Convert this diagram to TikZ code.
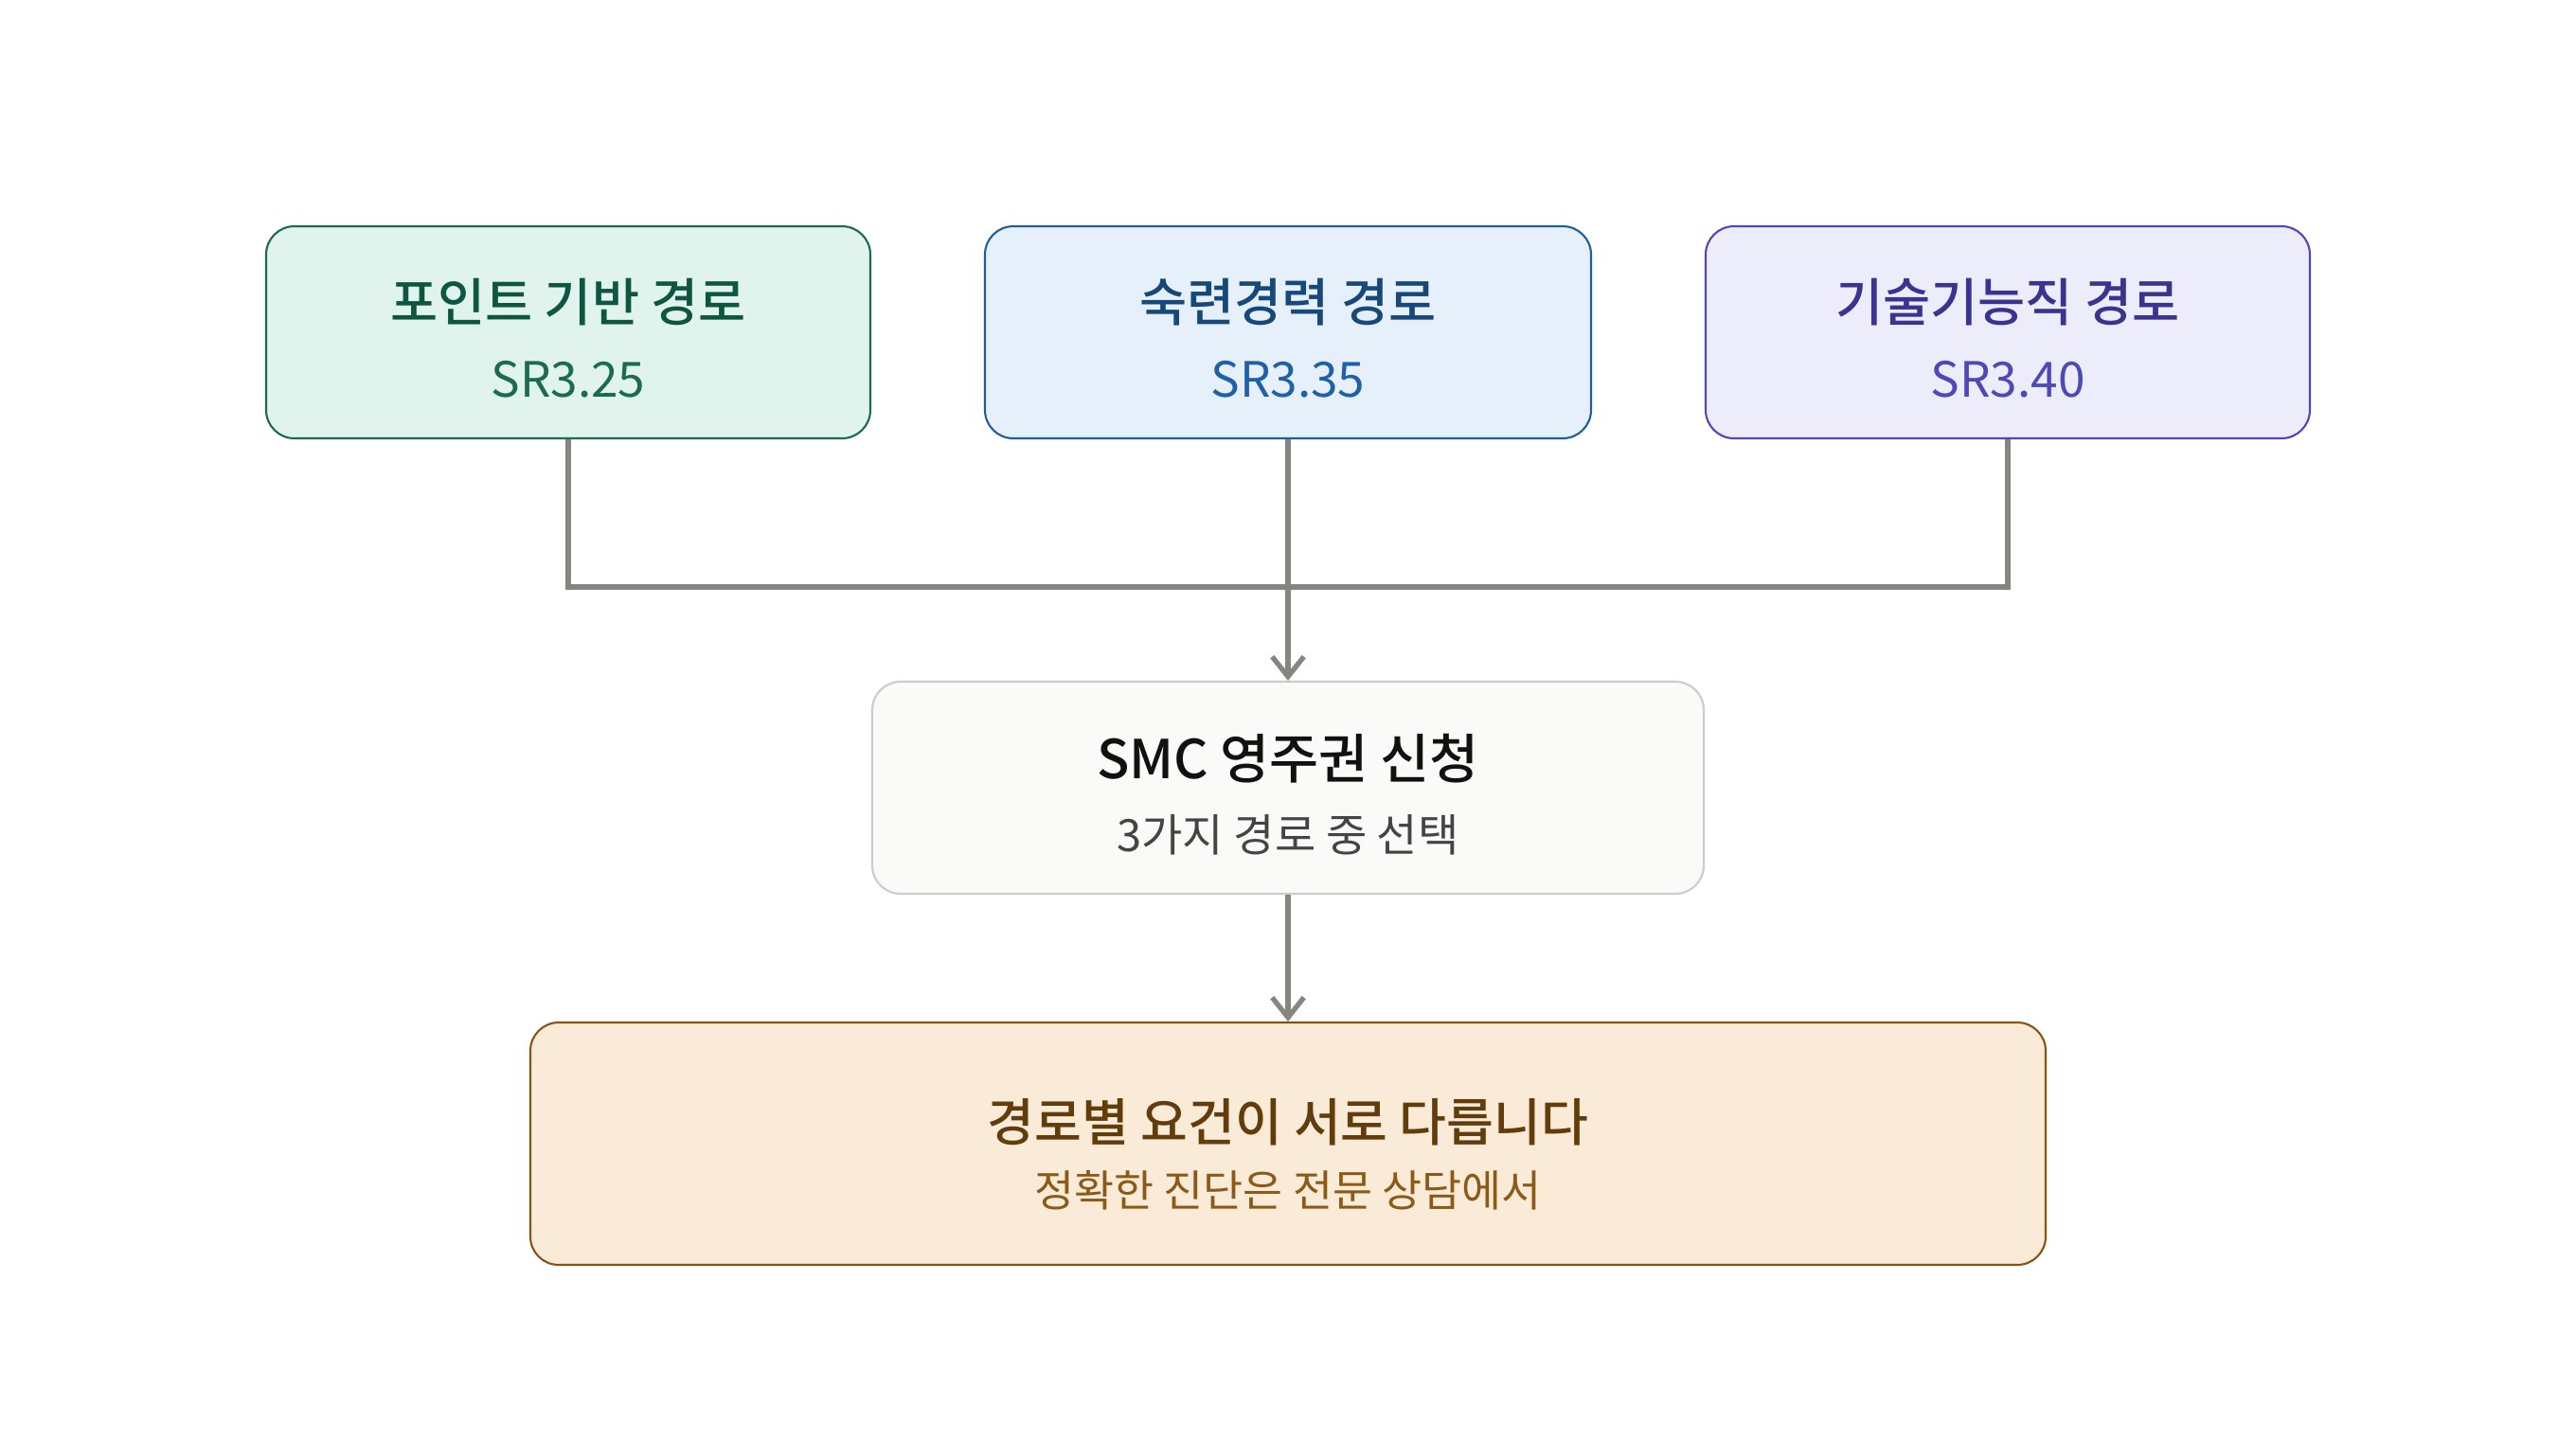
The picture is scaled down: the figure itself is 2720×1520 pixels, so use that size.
\documentclass[tikz,border=0pt]{standalone}
\usepackage{fontspec}
\setmainfont{Noto Sans CJK KR}[BoldFont={Noto Sans CJK KR Medium}]
\usetikzlibrary{arrows.meta}
\definecolor{gfill}{HTML}{E0F3EC}\definecolor{gdraw}{HTML}{1A6B50}\definecolor{gtitle}{HTML}{0F5641}\definecolor{gsub}{HTML}{1A6B50}
\definecolor{bfill}{HTML}{E5F0FA}\definecolor{bdraw}{HTML}{1E5FA0}\definecolor{btitle}{HTML}{16487A}\definecolor{bsub}{HTML}{2060A8}
\definecolor{pfill}{HTML}{EDECFB}\definecolor{pdraw}{HTML}{5048B8}\definecolor{ptitle}{HTML}{3A3390}\definecolor{psub}{HTML}{4F48B8}
\definecolor{nfill}{HTML}{FAFAF8}\definecolor{ndraw}{HTML}{CCCCCA}\definecolor{ntitle}{HTML}{111111}\definecolor{nsub}{HTML}{444444}
\definecolor{ofill}{HTML}{FAEBD8}\definecolor{odraw}{HTML}{8B5210}\definecolor{otitle}{HTML}{633C0C}\definecolor{osub}{HTML}{8B5A16}
\definecolor{conn}{HTML}{868680}
\tikzset{
  box/.style={rectangle, rounded corners=8.5pt, line width=0.6pt, inner sep=0pt},
  ttl/.style={font=\fontsize{15.5}{18}\selectfont\bfseries, inner sep=0pt},
  sub/.style={font=\fontsize{14.6}{17}\selectfont, inner sep=0pt},
  link/.style={draw=conn, line width=1.5pt},
  arr/.style={link, -{Straight Barb[length=6pt, width=9.5pt, line width=1.5pt]}},
}
\begin{document}
\begin{tikzpicture}[x=0.01cm, y=-0.01cm]
\useasboundingbox[fill=white] (0,0) rectangle (2720,1520);
% top boxes
\node[box, draw=gdraw, fill=gfill, minimum width=638*0.01cm, minimum height=224*0.01cm] (b1) at (600,351) {};
\node[box, draw=bdraw, fill=bfill, minimum width=640*0.01cm, minimum height=224*0.01cm] (b2) at (1360,351) {};
\node[box, draw=pdraw, fill=pfill, minimum width=638*0.01cm, minimum height=224*0.01cm] (b3) at (2120,351) {};
\node[ttl, text=gtitle] (t1) at (600,319) {포인트 기반 경로};
\node[sub, text=gsub] (s1) at (600,401) {SR3.25};
\node[ttl, text=btitle] (t2) at (1360,319) {숙련경력 경로};
\node[sub, text=bsub] (s2) at (1360,401) {SR3.35};
\node[ttl, text=ptitle] (t3) at (2120,319) {기술기능직 경로};
\node[sub, text=psub] (s3) at (2120,401) {SR3.40};
% middle box
\node[box, draw=ndraw, fill=nfill, minimum width=878*0.01cm, minimum height=224*0.01cm] (smc) at (1360,832) {};
\node[ttl, font=\fontsize{16.1}{19}\selectfont\bfseries, text=ntitle] (t4) at (1360,801) {SMC 영주권 신청};
\node[sub, font=\fontsize{13.4}{16}\selectfont, text=nsub] (s4) at (1360,882) {3가지 경로 중 선택};
% bottom box
\node[box, draw=odraw, fill=ofill, minimum width=1600*0.01cm, minimum height=256*0.01cm] (bot) at (1360,1208) {};
\node[ttl, font=\fontsize{15.4}{18}\selectfont\bfseries, text=otitle] (t5) at (1360,1185) {경로별 요건이 서로 다릅니다};
\node[sub, font=\fontsize{13}{16}\selectfont, text=osub] (s5) at (1360,1257) {정확한 진단은 전문 상담에서};
% connectors
\coordinate (j) at (1360,620);
\draw[link] (b1.south) |- (j) -| (b3.south);
\draw[arr] (b2.south) -- (smc.north);
\draw[arr] (smc.south) -- (bot.north);
\end{tikzpicture}
\end{document}
